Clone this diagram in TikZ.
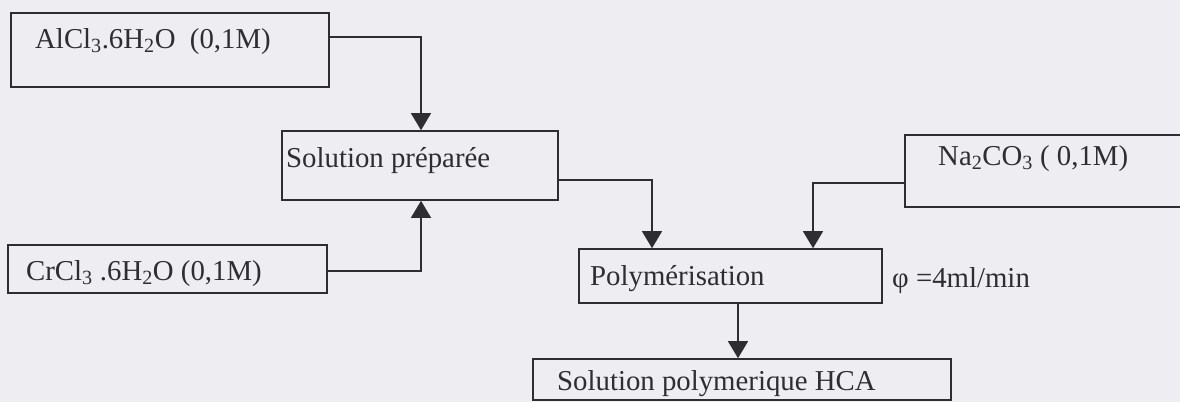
\documentclass[tikz,border=0pt]{standalone}
\usepackage{fontspec}
\setmainfont{Liberation Serif}
\usetikzlibrary{arrows.meta}
\definecolor{paper}{RGB}{238,238,242}
\definecolor{ink}{RGB}{45,45,50}
\tikzset{
  box/.style={draw=ink, line width=1.6pt, rectangle, inner sep=0pt},
  txt/.style={anchor=base west, inner sep=0pt, text=ink, font=\fontsize{28.8}{34}\selectfont},
  conn/.style={draw=ink, line width=1.3pt, -{Triangle[width=20pt,length=17pt]}},
}
\begin{document}
\begin{tikzpicture}[x=1pt,y=-1pt]
\useasboundingbox (0,0) rectangle (1180,402);
\fill[paper] (0,0) rectangle (1180,402);

% boxes
\node[box, minimum width=318pt, minimum height=74pt] (al) at (170,50) {};
\node[box, minimum width=276pt, minimum height=69pt] (sp) at (420,165.5) {};
\node[box, minimum width=319pt, minimum height=48pt] (cr) at (167.5,269) {};
\node[box, minimum width=290pt, minimum height=72pt] (na) at (1050,171) {};
\node[box, minimum width=303pt, minimum height=54pt] (po) at (730.5,276) {};
\node[box, minimum width=418pt, minimum height=41pt] (sh) at (742,379.5) {};

% texts
\node[txt] (tal) at (35,48) {AlCl\textsubscript{3}.6H\textsubscript{2}O\ \ (0,1M)};
\node[txt] (tsp) at (286,167) {Solution préparée};
\node[txt] (tcr) at (26,280) {CrCl\textsubscript{3} .6H\textsubscript{2}O (0,1M)};
\node[txt] (tna) at (938,165) {Na\textsubscript{2}CO\textsubscript{3} ( 0,1M)};
\node[txt] (tpo) at (590,285) {Polymérisation};
\node[txt] (tphi) at (892,287) {φ =4ml/min};
\node[txt] (tsh) at (557,390) {Solution polymerique HCA};

% junction coordinates
\coordinate (j1) at (421,37);
\coordinate (j2) at (421,271);
\coordinate (j3) at (652,180);
\coordinate (j4) at (813,183);
\coordinate (j5) at (738,330);

% connectors
\draw[conn] (al.east |- j1) -| (sp.north -| j1);
\draw[conn] (cr.east |- j2) -| (sp.south -| j2);
\draw[conn] (sp.east |- j3) -| (po.north -| j3);
\draw[conn] (na.west |- j4) -| (po.north -| j4);
\draw[conn] (po.south -| j5) -- (sh.north -| j5);
\end{tikzpicture}
\end{document}
